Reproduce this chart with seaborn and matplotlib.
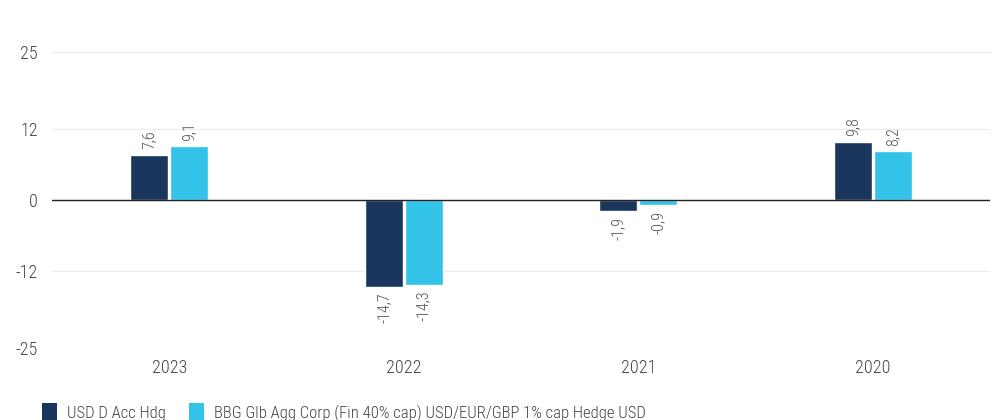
import matplotlib
matplotlib.use("Agg")
import matplotlib.pyplot as plt
from matplotlib import font_manager
from matplotlib.patches import Patch
import seaborn as sns
import pandas as pd

years = ["2023", "2022", "2021", "2020"]
fund = [7.6, -14.7, -1.9, 9.8]
bench = [9.1, -14.3, -0.9, 8.2]
series_names = ["USD D Acc Hdg", "BBG Glb Agg Corp (Fin 40% cap) USD/EUR/GBP 1% cap Hedge USD"]
yticks = [-25, -12, 0, 12, 25]
colors = ["#1b365d", "#33c3e8"]

sns.set_theme(style="white")
avail = {f.name for f in font_manager.fontManager.ttflist}
fam = "DejaVu Sans"
for cand in ["Roboto Condensed", "Liberation Sans Narrow", "DejaVu Sans Condensed", "Open Sans Condensed"]:
    if cand in avail:
        fam = cand
        break
plt.rcParams["font.family"] = [fam, "DejaVu Sans"]
plt.rcParams["font.weight"] = "light"

df = pd.DataFrame({
    "year": years * 2,
    "value": fund + bench,
    "series": [series_names[0]] * 4 + [series_names[1]] * 4,
})

fig = plt.figure(figsize=(9.92, 4.2), dpi=100)
ax = fig.add_axes([0.0524, 0.1714, 0.9456, 0.7048])
sns.barplot(data=df, x="year", y="value", hue="series", order=years,
            hue_order=series_names, palette=colors, width=0.34, gap=0.04,
            ax=ax, legend=False, saturation=1)

ax.set_ylim(-25, 25)
ax.set_yticks(yticks)
ax.set_yticklabels([str(t) for t in yticks])
ax.set_xlabel("")
ax.set_ylabel("")
for s in ax.spines.values():
    s.set_visible(False)
ax.grid(axis="y", color="#ebebeb", linewidth=0.8)
ax.set_axisbelow(True)
ax.axhline(0, color="#222222", linewidth=1.0, zorder=3)
ax.tick_params(axis="both", length=0, labelsize=13, colors="#444444", pad=8)
ax.tick_params(axis="y", pad=10)

for cont in ax.containers:
    for bar in cont:
        h = bar.get_height()
        x = bar.get_x() + bar.get_width() / 2
        lab = f"{h:.1f}".replace(".", ",")
        if h >= 0:
            ax.annotate(lab, (x, h), xytext=(0, 4), textcoords="offset points",
                        rotation=90, ha="center", va="bottom", fontsize=11.5, color="#555555")
        else:
            ax.annotate(lab, (x, h), xytext=(0, -4), textcoords="offset points",
                        rotation=90, ha="center", va="top", fontsize=11.5, color="#555555")

handles = [Patch(facecolor=c, edgecolor="none") for c in colors]
fig.legend(handles, series_names, loc="lower left", bbox_to_anchor=(0.027, -0.04),
           ncol=2, frameon=False, fontsize=12, handlelength=0.9, handleheight=1.3,
           handletextpad=0.6, columnspacing=1.4, labelcolor="#444444")

fig.savefig("out.png", dpi=100)
